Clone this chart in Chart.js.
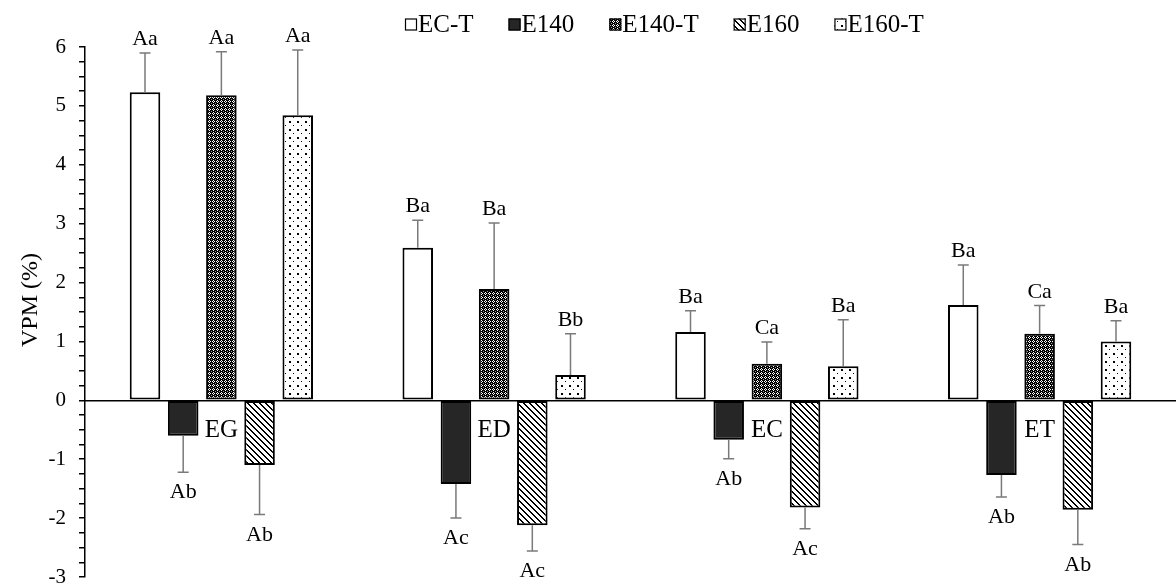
<!DOCTYPE html>
<html>
<head>
<meta charset="utf-8">
<script src="https://cdn.jsdelivr.net/npm/chart.js@4"></script>
<style>
  html, body { margin: 0; padding: 0; background: #fff; }
  #wrap { width: 1176px; height: 585px; }
</style>
</head>
<body>
<div id="wrap"><canvas id="chart"></canvas></div>
<script>
// categories and series
const categories = ['EG', 'ED', 'EC', 'ET'];
const seriesNames = ['EC-T', 'E140', 'E140-T', 'E160', 'E160-T'];

// mean VPM (%)
const ecT   = [5.23, 2.59, 1.16, 1.62];
const e140  = [-0.60, -1.42, -0.67, -1.27];
const e140T = [5.18, 1.89, 0.62, 1.13];
const e160  = [-1.10, -2.12, -1.82, -1.86];
const e160T = [4.84, 0.43, 0.58, 1.00];

// error bar sizes
const ecTErr   = [0.67, 0.47, 0.36, 0.68];
const e140Err  = [0.62, 0.58, 0.32, 0.37];
const e140TErr = [0.74, 1.12, 0.37, 0.48];
const e160Err  = [0.84, 0.44, 0.36, 0.59];
const e160TErr = [1.11, 0.70, 0.79, 0.35];

// significance letters
const ecTLetters   = ['Aa', 'Ba', 'Ba', 'Ba'];
const e140Letters  = ['Ab', 'Ac', 'Ab', 'Ab'];
const e140TLetters = ['Aa', 'Ba', 'Ca', 'Ca'];
const e160Letters  = ['Ab', 'Ac', 'Ac', 'Ab'];
const e160TLetters = ['Aa', 'Bb', 'Ba', 'Ba'];

// y axis tick labels
const yTicks = [-3, -2, -1, 0, 1, 2, 3, 4, 5, 6];

const SERIF = '"Liberation Serif", "Times New Roman", serif';

// fill patterns
function makePattern(kind) {
    const c = document.createElement('canvas');
    const g = c.getContext('2d');
    if (kind === 'check') {
        c.width = 4; c.height = 4;
        g.fillStyle = '#000'; g.fillRect(0, 0, 4, 4);
        g.fillStyle = '#fff';
        [[1, 0], [0, 1], [2, 1], [1, 2]].forEach(p => g.fillRect(p[0], p[1], 1, 1));
        g.fillStyle = '#999';
        g.fillRect(3, 3, 1, 1);
    } else if (kind === 'hatch') {
        c.width = 6; c.height = 6;
        g.fillStyle = '#fff'; g.fillRect(0, 0, 6, 6);
        g.fillStyle = '#000';
        for (let i = 0; i < 6; i++) {
            g.fillRect(i, i, 1, 1);
            g.fillRect((i + 1) % 6, i, 1, 1);
        }
    } else {
        c.width = 8; c.height = 8;
        g.fillStyle = '#fff'; g.fillRect(0, 0, 8, 8);
        g.fillStyle = '#000';
        g.fillRect(1, 1, 2, 2);
        g.fillRect(5, 5, 1, 1);
    }
    return g.createPattern(c, 'repeat');
}

const fills = ['#ffffff', '#262626', makePattern('check'), makePattern('hatch'), makePattern('dots')];
const values = [ecT, e140, e140T, e160, e160T];
const errors = [ecTErr, e140Err, e140TErr, e160Err, e160TErr];
const letters = [ecTLetters, e140Letters, e140TLetters, e160Letters, e160TLetters];

const datasets = seriesNames.map((name, i) => ({
    label: name,
    data: values[i],
    errors: errors[i],
    letters: letters[i],
    backgroundColor: fills[i],
    borderColor: '#000',
    borderWidth: 2,
    borderSkipped: false,
    barPercentage: 0.8,
    categoryPercentage: 0.7
}));

// error bars + letters
const errorBars = {
    id: 'errorBars',
    afterDatasetsDraw(chart) {
        const ctx = chart.ctx;
        const yScale = chart.scales.y;
        chart.data.datasets.forEach((ds, i) => {
            chart.getDatasetMeta(i).data.forEach((bar, j) => {
                const v = ds.data[j];
                const end = v >= 0 ? v + ds.errors[j] : v - ds.errors[j];
                const yEnd = yScale.getPixelForValue(end);
                ctx.save();
                ctx.strokeStyle = '#7a7a7a';
                ctx.lineWidth = 1.5;
                ctx.beginPath();
                ctx.moveTo(bar.x, bar.y);
                ctx.lineTo(bar.x, yEnd);
                ctx.moveTo(bar.x - 5.5, yEnd);
                ctx.lineTo(bar.x + 5.5, yEnd);
                ctx.stroke();
                ctx.fillStyle = '#000';
                ctx.font = '22px ' + SERIF;
                ctx.textAlign = 'center';
                ctx.textBaseline = 'alphabetic';
                ctx.fillText(ds.letters[j], bar.x, v >= 0 ? yEnd - 8 : yEnd + 26);
                ctx.restore();
            });
        });
    }
};

// legend along the top, y axis title
const extras = {
    id: 'extras',
    afterDraw(chart) {
        const ctx = chart.ctx;
        ctx.save();
        ctx.font = '25px ' + SERIF;
        ctx.textBaseline = 'middle';
        ctx.textAlign = 'left';
        let x = 405;
        const yc = 24.5;
        chart.data.datasets.forEach(ds => {
            ctx.fillStyle = ds.backgroundColor;
            ctx.fillRect(x, yc - 6, 12, 12);
            ctx.strokeStyle = '#000';
            ctx.lineWidth = 1.2;
            ctx.strokeRect(x + 0.5, yc - 5.5, 11, 11);
            ctx.fillStyle = '#000';
            ctx.fillText(ds.label, x + 13, yc + 1);
            x += 13 + ctx.measureText(ds.label).width + 35;
        });
        ctx.translate(31, 300);
        ctx.rotate(-Math.PI / 2);
        ctx.textAlign = 'center';
        ctx.font = '24px ' + SERIF;
        ctx.fillText('VPM (%)', 0, 0);
        ctx.restore();
    }
};

new Chart(document.getElementById('chart'), {
    type: 'bar',
    data: { labels: categories, datasets: datasets },
    plugins: [errorBars, extras],
    options: {
        responsive: true,
        maintainAspectRatio: false,
        animation: false,
        layout: { padding: { left: 0, top: 47, right: 0, bottom: 8 } },
        plugins: {
            legend: { display: false },
            tooltip: { enabled: false }
        },
        scales: {
            x: {
                position: { y: 0 },
                grid: { display: false, drawTicks: false, tickLength: 0 },
                border: { display: true, color: '#000', width: 1.5 },
                ticks: { color: '#000', font: { family: SERIF, size: 25 }, padding: 15 }
            },
            y: {
                min: yTicks[0],
                max: yTicks[yTicks.length - 1],
                afterFit(scale) {
                    scale.width = 85;
                    scale.paddingTop = 0;
                    scale.paddingBottom = 0;
                },
                ticks: {
                    stepSize: 0.25,
                    autoSkip: false,
                    color: '#000',
                    padding: 13,
                    font: { family: SERIF, size: 21 },
                    callback: v => yTicks.includes(v) ? String(v) : ''
                },
                grid: { drawOnChartArea: false, drawTicks: true, tickLength: 6, color: '#000', lineWidth: 1.5 },
                border: { display: true, color: '#000', width: 1.5 }
            }
        }
    }
});
</script>
</body>
</html>
